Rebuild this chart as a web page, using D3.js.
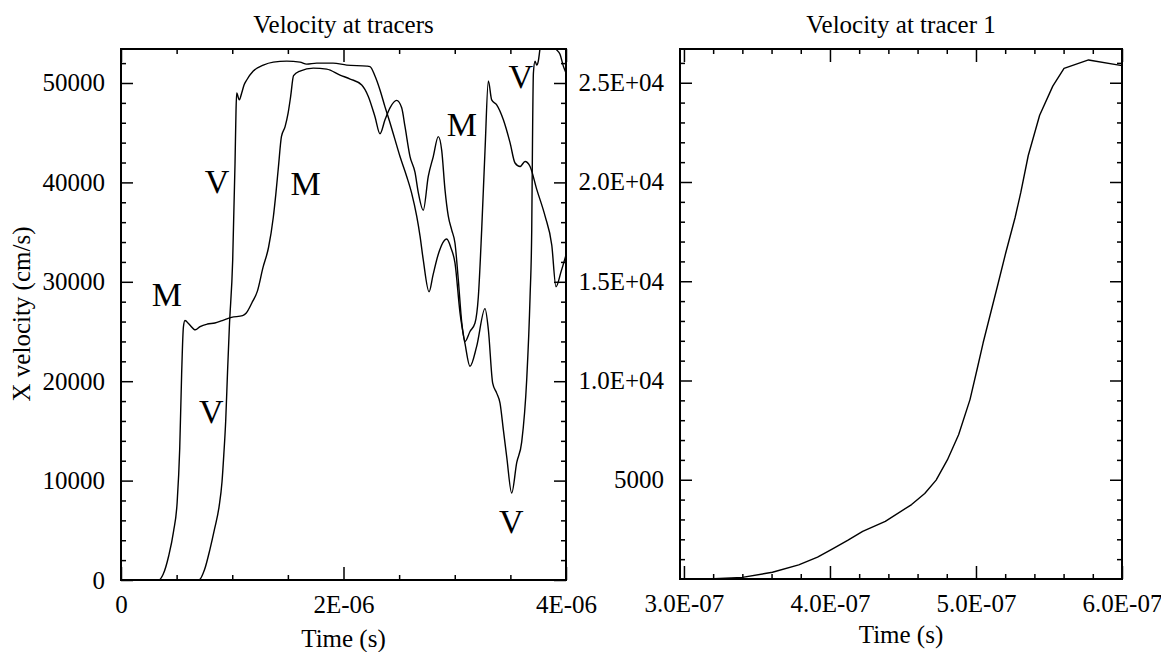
<!DOCTYPE html>
<html>
<head>
<meta charset="utf-8">
<script src="https://cdn.jsdelivr.net/npm/d3@7"></script>
<style>
  body { margin: 0; background: #fff; }
  svg { display: block; font-family: "Liberation Serif", "Times New Roman", serif; }
</style>
</head>
<body>
<svg id="chart" width="1161" height="652"></svg>
<script>
// ---- data -------------------------------------------------------------
// Tracer "M": time in microseconds, x velocity in cm/s
const tracerMTime = [0.00, 0.339, 0.379, 0.429, 0.472, 0.505, 0.528, 0.545, 0.561, 0.575, 0.611, 0.668, 0.711, 0.777, 0.844, 0.910, 0.993, 1.093, 1.126, 1.176, 1.226, 1.276, 1.326, 1.369, 1.392, 1.415, 1.442, 1.475, 1.502, 1.525, 1.551, 1.609, 1.729, 1.849, 1.969, 2.060, 2.164, 2.223, 2.283, 2.328, 2.373, 2.418, 2.478, 2.523, 2.553, 2.598, 2.643, 2.672, 2.717, 2.762, 2.807, 2.852, 2.883, 2.912, 2.942, 2.973, 3.002, 3.032, 3.063, 3.092, 3.137, 3.182, 3.212, 3.242, 3.272, 3.302, 3.332, 3.377, 3.437, 3.497, 3.542, 3.587, 3.632, 3.677, 3.737, 3.812, 3.872, 3.910, 3.955, 4.000];
const tracerMVel  = [0, 0, 575, 2440, 4870, 7850, 13270, 20700, 25450, 26100, 25750, 25170, 25500, 25750, 25850, 26100, 26420, 26590, 26860, 27870, 29060, 31420, 33450, 36490, 38850, 41550, 44600, 45610, 46960, 48650, 50740, 51200, 51500, 51400, 50800, 50400, 49800, 48650, 46600, 44900, 46300, 47500, 48250, 47500, 45600, 42600, 41000, 39000, 37200, 40600, 42600, 44600, 43200, 39300, 36600, 35200, 33900, 30200, 25900, 24000, 25000, 25850, 28500, 35200, 43200, 50200, 48300, 47800, 46300, 44000, 41950, 41600, 42100, 41600, 39300, 36600, 33700, 29500, 31000, 32700];

// Tracer "V": time in microseconds, x velocity in cm/s
const tracerVTime = [0.00, 0.700, 0.752, 0.800, 0.841, 0.881, 0.908, 0.924, 0.941, 0.958, 0.974, 1.004, 1.025, 1.034, 1.040, 1.063, 1.085, 1.106, 1.130, 1.189, 1.279, 1.369, 1.490, 1.609, 1.669, 1.759, 1.906, 2.029, 2.209, 2.238, 2.283, 2.328, 2.373, 2.418, 2.463, 2.508, 2.568, 2.613, 2.658, 2.688, 2.717, 2.769, 2.805, 2.850, 2.928, 2.966, 3.002, 3.047, 3.092, 3.137, 3.197, 3.272, 3.302, 3.341, 3.377, 3.407, 3.437, 3.467, 3.512, 3.557, 3.602, 3.647, 3.677, 3.692, 3.699, 3.707, 3.722, 3.737, 3.751, 3.766, 3.784, 3.847, 3.910, 3.946, 3.976, 4.000];
const tracerVVel  = [0, 0, 1080, 3110, 5140, 7340, 9880, 12590, 15970, 21050, 25450, 32200, 41950, 47300, 49000, 48300, 49000, 49800, 50300, 51200, 51800, 52100, 52200, 52100, 51900, 52000, 52000, 51800, 51700, 51650, 50700, 49300, 47600, 46000, 44300, 42600, 40600, 38900, 36600, 34600, 32200, 29000, 30700, 32700, 34300, 33400, 31900, 26900, 23800, 21500, 23500, 27300, 25200, 19800, 18800, 17800, 15100, 12400, 8750, 11800, 13900, 20200, 28500, 35200, 44300, 51000, 52200, 51800, 52200, 53400, 54400, 54600, 53400, 52900, 51700, 51000];

// Tracer 1: time in units of 1E-07 s, x velocity in cm/s
const tracer1Time = [3.168, 3.400, 3.606, 3.786, 3.915, 4.018, 4.121, 4.224, 4.379, 4.559, 4.649, 4.727, 4.804, 4.881, 4.959, 5.010, 5.049, 5.152, 5.204, 5.268, 5.307, 5.358, 5.436, 5.526, 5.603, 5.771, 6.000];
const tracer1Vel  = [0, 84, 338, 709, 1098, 1520, 1943, 2399, 2905, 3750, 4307, 4983, 5997, 7264, 9037, 10642, 11900, 14900, 16437, 18210, 19477, 21335, 23362, 24831, 25726, 26148, 25861];

// Tick values and their labels
const leftXTicks = [0, 2e-6, 4e-6];
const leftXTickLabels = ["0", "2E-06", "4E-06"];
const leftYTicks = [0, 10000, 20000, 30000, 40000, 50000];
const leftYTickLabels = ["0", "10000", "20000", "30000", "40000", "50000"];
const rightXTicks = [3e-7, 4e-7, 5e-7, 6e-7];
const rightXTickLabels = ["3.0E-07", "4.0E-07", "5.0E-07", "6.0E-07"];
const rightYTicks = [5000, 10000, 15000, 20000, 25000];
const rightYTickLabels = ["5000", "1.0E+04", "1.5E+04", "2.0E+04", "2.5E+04"];

// Curve letters placed next to the traces (time in µs, velocity)
const curveLetters = ["M", "V", "V", "M", "M", "V", "V"];
const curveLetterTime = [0.412, 0.811, 0.863, 1.660, 3.063, 3.593, 3.508];
const curveLetterVel = [28700, 17000, 40070, 39900, 45800, 50660, 5890];

// ---- drawing ----------------------------------------------------------
const US = 1e-6, E7 = 1e-7;
const FONT = 25;
const svg = d3.select("#chart");

function styleAxis(g) {
  g.select(".domain").remove();
  g.attr("font-family", null).attr("font-size", FONT);
  g.selectAll(".tick line").attr("stroke", "#000").attr("stroke-width", 1.5);
  g.selectAll(".tick text").attr("fill", "#000");
}

function drawPanel(p) {
  const x = d3.scaleLinear().domain(p.xDomain).range([p.left, p.right]);
  const y = d3.scaleLinear().domain(p.yDomain).range([p.bottom, p.top]);
  const g = svg.append("g");
  const lab = (vals, labels) => d => labels[vals.findIndex(v => Math.abs(v - d) < 1e-15 + Math.abs(d) * 1e-9)];

  // major ticks with labels (bottom, left)
  g.append("g").attr("transform", `translate(0,${p.bottom})`)
    .call(d3.axisBottom(x).tickValues(p.xTicks).tickSizeInner(-13).tickSizeOuter(0)
      .tickPadding(15).tickFormat(lab(p.xTicks, p.xLabels))).call(styleAxis);
  g.append("g").attr("transform", `translate(${p.left},0)`)
    .call(d3.axisLeft(y).tickValues(p.yTicks).tickSizeInner(-12).tickSizeOuter(0)
      .tickPadding(16).tickFormat(lab(p.yTicks, p.yLabels))).call(styleAxis);
  // major ticks on top and right sides
  g.append("g").attr("transform", `translate(0,${p.top})`)
    .call(d3.axisTop(x).tickValues(p.xTicks).tickSizeInner(-13).tickSizeOuter(0).tickFormat(""))
    .call(styleAxis);
  g.append("g").attr("transform", `translate(${p.right},0)`)
    .call(d3.axisRight(y).tickValues(p.yTicks).tickSizeInner(-12).tickSizeOuter(0).tickFormat(""))
    .call(styleAxis);
  // minor ticks on all four sides
  [[d3.axisBottom, x, p.xMinor, `translate(0,${p.bottom})`],
   [d3.axisTop, x, p.xMinor, `translate(0,${p.top})`],
   [d3.axisLeft, y, p.yMinor, `translate(${p.left},0)`],
   [d3.axisRight, y, p.yMinor, `translate(${p.right},0)`]].forEach(([fn, sc, vals, tr]) => {
    g.append("g").attr("transform", tr)
      .call(fn(sc).tickValues(vals).tickSizeInner(-5).tickSizeOuter(0).tickFormat(""))
      .call(styleAxis);
  });

  // traces, clipped to the frame
  const clipId = "clip-" + p.id;
  svg.append("clipPath").attr("id", clipId).append("rect")
    .attr("x", p.left).attr("y", p.top).attr("width", p.right - p.left).attr("height", p.bottom - p.top);
  const line = d3.line().x(d => x(d[0])).y(d => y(d[1])).curve(p.curve);
  p.series.forEach(s => {
    g.append("path").datum(s).attr("clip-path", `url(#${clipId})`)
      .attr("d", line).attr("fill", "none").attr("stroke", "#000")
      .attr("stroke-width", 1.4).attr("stroke-linejoin", "round");
  });

  // frame
  g.append("rect").attr("x", p.left).attr("y", p.top)
    .attr("width", p.right - p.left).attr("height", p.bottom - p.top)
    .attr("fill", "none").attr("stroke", "#000").attr("stroke-width", 2);

  // title and axis titles
  const cx = (p.left + p.right) / 2;
  g.append("text").attr("x", cx).attr("y", 33).attr("text-anchor", "middle")
    .attr("font-size", FONT).text(p.title);
  g.append("text").attr("x", cx).attr("y", p.xTitleY).attr("text-anchor", "middle")
    .attr("font-size", FONT).text("Time (s)");
  return { x, y, g };
}

const leftPanel = drawPanel({
  id: "tracers", title: "Velocity at tracers",
  left: 121, right: 566, top: 49, bottom: 580,
  xDomain: [0, 4e-6], yDomain: [0, 53420],
  xTicks: leftXTicks, xLabels: leftXTickLabels,
  yTicks: leftYTicks, yLabels: leftYTickLabels,
  xMinor: d3.range(1, 8).filter(i => i !== 4).map(i => i * 5e-7),
  yMinor: d3.range(1, 27).filter(i => i % 5 !== 0).map(i => i * 2000),
  series: [
    tracerMTime.map((t, i) => [t * US, tracerMVel[i]]),
    tracerVTime.map((t, i) => [t * US, tracerVVel[i]])
  ],
  curve: d3.curveMonotoneX,
  xTitleY: 647
});

drawPanel({
  id: "tracer1", title: "Velocity at tracer 1",
  left: 680, right: 1122, top: 49, bottom: 579,
  xDomain: [2.973e-7, 6e-7], yDomain: [0, 26700],
  xTicks: rightXTicks, xLabels: rightXTickLabels,
  yTicks: rightYTicks, yLabels: rightYTickLabels,
  xMinor: d3.range(15, 30).filter(i => i % 5 !== 0).map(i => i * 2e-8),
  yMinor: d3.range(1, 27).filter(i => i % 5 !== 0).map(i => i * 1000),
  series: [tracer1Time.map((t, i) => [t * E7, tracer1Vel[i]])],
  curve: d3.curveLinear,
  xTitleY: 643
});

// y-axis title of the left panel
svg.append("text")
  .attr("transform", "translate(30,314) rotate(-90)")
  .attr("text-anchor", "middle").attr("font-size", FONT)
  .text("X velocity (cm/s)");

// letters identifying the two tracer traces
leftPanel.g.selectAll("text.letter")
  .data(curveLetters)
  .join("text").attr("class", "letter")
  .attr("x", (d, i) => leftPanel.x(curveLetterTime[i] * US))
  .attr("y", (d, i) => leftPanel.y(curveLetterVel[i]))
  .attr("dy", "0.34em")
  .attr("text-anchor", "middle").attr("font-size", 34)
  .text(d => d);
</script>
</body>
</html>
